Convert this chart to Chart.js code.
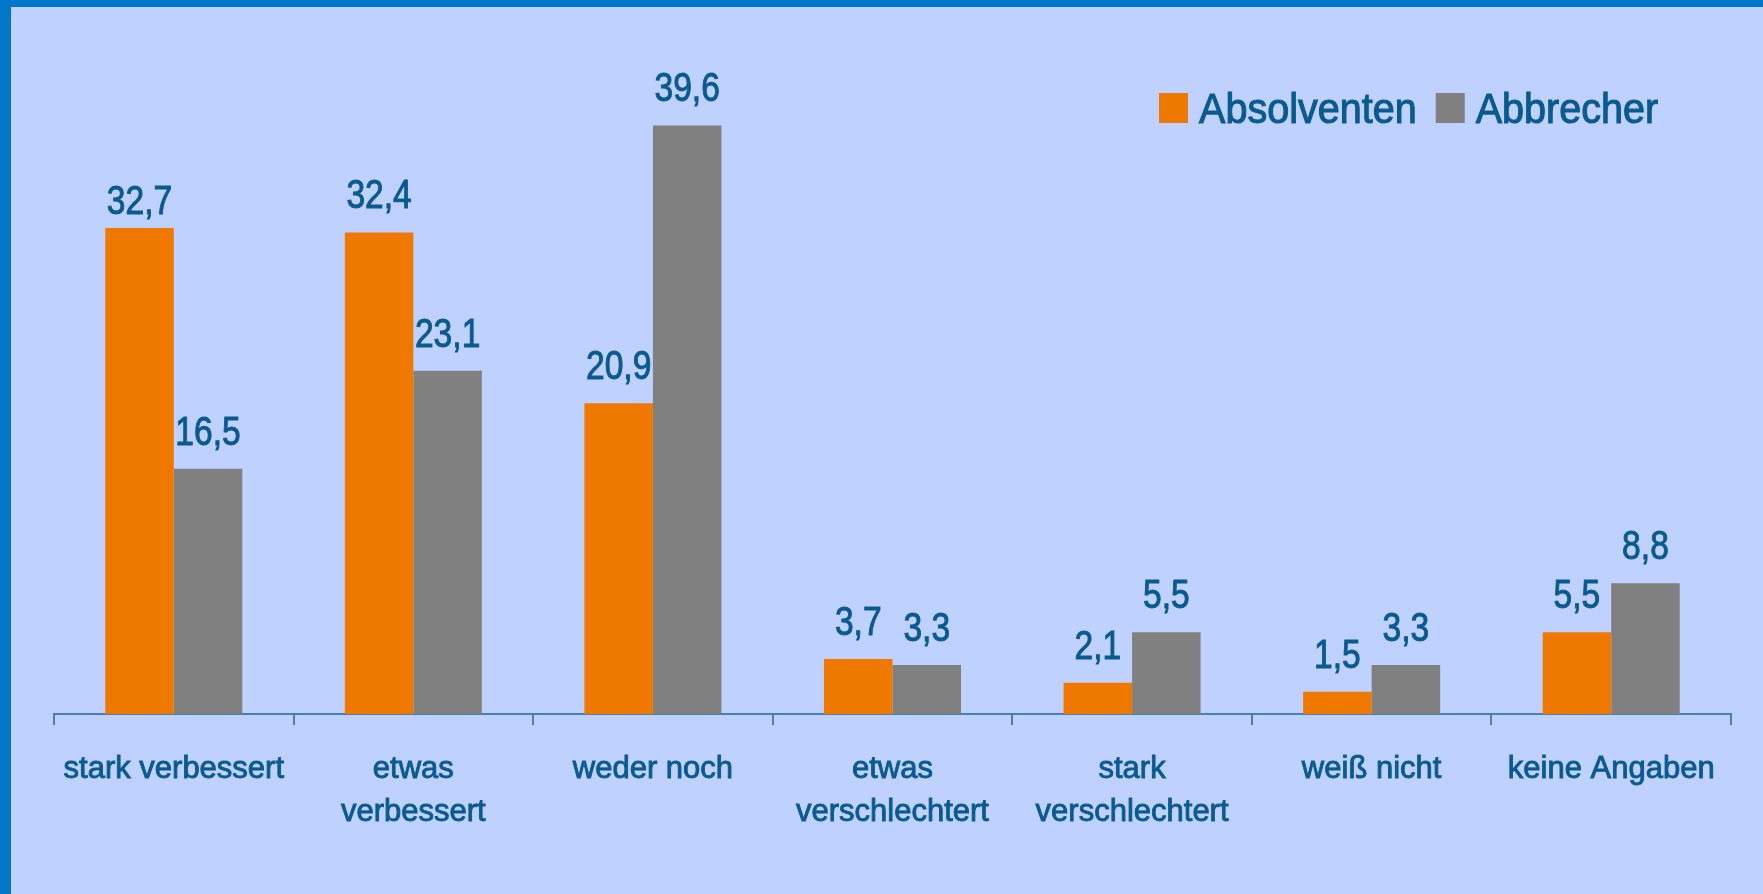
<!DOCTYPE html>
<html lang="de">
<head>
  <meta charset="UTF-8">
  <title>Absolventen und Abbrecher</title>
  <script src="https://cdn.jsdelivr.net/npm/chart.js"></script>
  <style>
    html, body { margin: 0; padding: 0; background: #bfd2ff; overflow: hidden; }
    #frame {
      position: fixed; left: 0; top: 0; width: 1763px; height: 894px;
      box-sizing: border-box;
      border-left: 11px solid #0077c8;
      border-top: 7px solid #0077c8;
    }
    #wrap { position: absolute; left: 0; top: 0; width: 1763px; height: 894px; }
  </style>
</head>
<body>
  <div id="frame"></div>
  <div id="wrap"><canvas id="chart"></canvas></div>

  <script>
    // Daten
    const categories = [
      'stark verbessert',
      ['etwas', 'verbessert'],
      'weder noch',
      ['etwas', 'verschlechtert'],
      ['stark', 'verschlechtert'],
      'weiß nicht',
      'keine Angaben'
    ];
    const absolventen = [32.7, 32.4, 20.9, 3.7, 2.1, 1.5, 5.5];
    const abbrecher = [16.5, 23.1, 39.6, 3.3, 5.5, 3.3, 8.8];
    const seriesNames = ['Absolventen', 'Abbrecher'];

    const textColor = '#0b5a8e';
    const fontFamily = '"Liberation Sans", Arial, sans-serif';

    // schmale Schrift: horizontal gestauchter Text
    function narrowText(ctx, txt, x, y, squeeze, align) {
      ctx.save();
      ctx.translate(x, y);
      ctx.scale(squeeze, 1);
      ctx.textAlign = align;
      ctx.strokeText(txt, 0, 0);
      ctx.fillText(txt, 0, 0);
      ctx.restore();
    }

    // Werte über den Balken
    const valueLabels = {
      id: 'valueLabels',
      afterDatasetsDraw(chart) {
        const ctx = chart.ctx;
        ctx.save();
        ctx.fillStyle = textColor;
        ctx.strokeStyle = textColor;
        ctx.lineWidth = 1;
        ctx.font = '40px ' + fontFamily;
        ctx.textBaseline = 'alphabetic';
        chart.data.datasets.forEach((ds, i) => {
          chart.getDatasetMeta(i).data.forEach((bar, j) => {
            const txt = ds.data[j].toFixed(1).replace('.', ',');
            const gap = (i === 0 && j === 0) ? 14 : 24;
            narrowText(ctx, txt, bar.x, bar.y - gap, 0.84, 'center');
          });
        });
        ctx.restore();
      }
    };

    // Legende oben rechts
    const legendBox = {
      id: 'legendBox',
      afterDraw(chart) {
        const ctx = chart.ctx;
        ctx.save();
        ctx.font = '43px ' + fontFamily;
        ctx.textBaseline = 'alphabetic';
        ctx.lineWidth = 1.1;
        let x = 1159;
        chart.data.datasets.forEach(ds => {
          ctx.fillStyle = ds.backgroundColor;
          ctx.fillRect(x, 93, 29, 30);
          ctx.fillStyle = textColor;
          ctx.strokeStyle = textColor;
          narrowText(ctx, ds.label, x + 40, 123, 0.92, 'left');
          x += 40 + ctx.measureText(ds.label).width * 0.92 + 19;
        });
        ctx.restore();
      }
    };

    new Chart(document.getElementById('chart'), {
      type: 'bar',
      data: {
        labels: categories,
        datasets: [
          { label: seriesNames[0], data: absolventen, backgroundColor: '#ef7800' },
          { label: seriesNames[1], data: abbrecher, backgroundColor: '#808080' }
        ]
      },
      options: {
        responsive: true,
        maintainAspectRatio: false,
        animation: false,
        events: [],
        layout: { padding: { left: 54, right: 32, top: 60, bottom: 0 } },
        datasets: { bar: { categoryPercentage: 0.572, barPercentage: 1.0 } },
        plugins: { legend: { display: false }, tooltip: { enabled: false } },
        scales: {
          x: {
            afterFit: s => { s.height = 180; },
            grid: { display: true, drawOnChartArea: false, tickLength: 11, color: '#4a7fb5', lineWidth: 2, offset: true },
            border: { display: true, color: '#4a7fb5', width: 2 },
            ticks: {
              color: textColor,
              padding: 23,
              maxRotation: 0,
              autoSkip: false,
              textStrokeColor: textColor,
              textStrokeWidth: 0.9,
              font: { family: fontFamily, size: 31, lineHeight: 1.39 }
            }
          },
          y: {
            display: false,
            min: 0,
            max: 44
          }
        }
      },
      plugins: [valueLabels, legendBox]
    });
  </script>
</body>
</html>
